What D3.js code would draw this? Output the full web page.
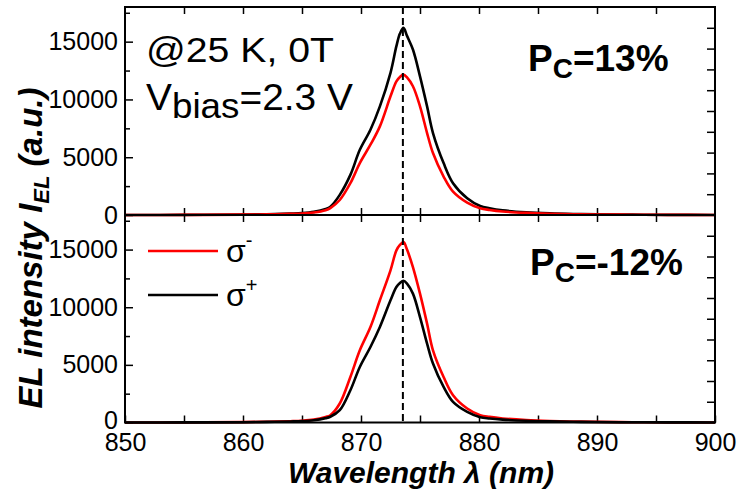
<!DOCTYPE html>
<html><head><meta charset="utf-8">
<script src="https://cdn.jsdelivr.net/npm/d3@7/dist/d3.min.js"></script>
<style>body{margin:0;background:#fff}svg{display:block}</style>
</head><body>
<svg id="c" width="737" height="496"></svg>
<script>
// ---- data ----
const wavelengths   = [850, 855, 860, 862, 864, 865, 866, 867, 867.4, 868.2, 869.1, 869.9, 870.8, 871.6, 872.5, 873.0, 873.3, 873.6, 873.9, 874.4, 875.0, 875.6, 876.1, 877.0, 877.8, 879.0, 880.1, 880.9, 882, 884, 886, 888, 890, 893, 896, 900];
const topSigmaPlus  = [0, 10, 40, 70, 120, 160, 270, 520, 720, 1740, 3470, 5640, 7380, 9400, 12300, 14610, 15700, 16200, 15500, 14320, 12000, 9400, 7090, 4490, 2750, 1450, 780, 580, 400, 230, 140, 90, 60, 30, 15, 5];
const topSigmaMinus = [0, 8, 30, 55, 100, 130, 220, 420, 600, 1300, 2750, 4490, 6080, 7670, 10270, 11570, 11950, 12150, 11900, 11140, 9400, 7090, 5360, 3330, 2020, 1070, 580, 434, 300, 180, 110, 70, 45, 22, 10, 4];
const botSigmaMinus = [0, 10, 35, 65, 110, 150, 250, 480, 633, 1646, 3950, 6265, 8284, 10600, 13200, 14930, 15400, 15650, 15000, 13480, 11180, 8580, 6265, 3950, 2366, 1213, 633, 485, 350, 210, 130, 85, 55, 28, 14, 5];
const botSigmaPlus  = [0, 8, 28, 50, 90, 120, 200, 380, 500, 1066, 2800, 4820, 6550, 8284, 10600, 11750, 12100, 12300, 12050, 11180, 9150, 6845, 5113, 3085, 1785, 918, 460, 347, 250, 150, 95, 60, 40, 20, 10, 4];
const xTickValues   = [850, 860, 870, 880, 890, 900];
const xMinorValues  = [855, 865, 875, 885, 895];
const yTickValues   = [0, 5000, 10000, 15000];
const yMinorValues  = [2500, 7500, 12500, 17500];
const peakWavelength = 873.55;
const panelPc       = ["13%", "-12%"];
const legendLabels  = ["-", "+"];

// ---- layout ----
const svg = d3.select("#c");
const L = 125, R = 715;
const panels = [{y0: 7, y1: 215}, {y0: 215, y1: 422.5}];
const FONT = "'Liberation Sans', Arial, Helvetica, sans-serif";
const x = d3.scaleLinear().domain([850, 900]).range([L, R]);
const yScales = panels.map(p => d3.scaleLinear().domain([0, 18000]).range([p.y1, p.y0]));

const series = [
  [{v: topSigmaPlus, c: "#000"}, {v: topSigmaMinus, c: "#ff0000"}],
  [{v: botSigmaMinus, c: "#ff0000"}, {v: botSigmaPlus, c: "#000"}]
];

function styleAxis(g) {
  g.select(".domain").remove();
  g.selectAll(".tick line").attr("stroke", "#000").attr("stroke-width", 1.5);
  g.selectAll("text").attr("font-family", FONT).attr("font-size", 25).attr("fill", "#000");
}

panels.forEach((p, i) => {
  const y = yScales[i];
  const left = svg.append("g").attr("transform", `translate(${L},0)`)
    .call(d3.axisLeft(y).tickValues(yTickValues).tickSize(-8).tickSizeOuter(0).tickPadding(7).tickFormat(d3.format("d")))
    .call(styleAxis);
  if (i === 1) {
    // lift the bottom "0" slightly so it clears the 850 label
    left.selectAll(".tick text").filter(d => d === 0).attr("dy", "0.22em");
  }
  svg.append("g").attr("transform", `translate(${L},0)`)
    .call(d3.axisLeft(y).tickValues(yMinorValues).tickSize(-5).tickSizeOuter(0).tickFormat(""))
    .call(styleAxis);
  svg.append("g").attr("transform", `translate(${R},0)`)
    .call(d3.axisRight(y).tickValues(d3.range(1800, 18000, 1800)).tickSize(-8).tickSizeOuter(0).tickFormat(""))
    .call(styleAxis);
  svg.append("g").attr("transform", `translate(0,${p.y0})`)
    .call(d3.axisTop(x).tickValues(d3.range(855, 900, 5)).tickSize(-7).tickSizeOuter(0).tickFormat(""))
    .call(styleAxis);
  if (i === 0) {
    svg.append("g").attr("transform", `translate(0,${p.y1})`)
      .call(d3.axisBottom(x).tickValues(d3.range(855, 900, 5)).tickSize(-7).tickSizeOuter(0).tickFormat(""))
      .call(styleAxis);
  } else {
    svg.append("g").attr("transform", `translate(0,${p.y1})`)
      .call(d3.axisBottom(x).tickValues(xTickValues).tickSize(-7).tickSizeOuter(0).tickPadding(11).tickFormat(d3.format("d")))
      .call(styleAxis);
    svg.append("g").attr("transform", `translate(0,${p.y1})`)
      .call(d3.axisBottom(x).tickValues(xMinorValues).tickSize(-7).tickSizeOuter(0).tickFormat(""))
      .call(styleAxis);
  }
  const line = d3.line().x((d, k) => x(wavelengths[k])).y(d => y(Math.max(0, d))).curve(d3.curveCatmullRom.alpha(0.5));
  series[i].forEach(s => {
    svg.append("path").datum(s.v).attr("d", line)
      .attr("fill", "none").attr("stroke", s.c).attr("stroke-width", 2.6).attr("stroke-linejoin", "round");
  });
  svg.append("rect").attr("x", L).attr("y", p.y0).attr("width", R - L).attr("height", p.y1 - p.y0)
    .attr("fill", "none").attr("stroke", "#000").attr("stroke-width", 2);
  const t = svg.append("text").attr("x", i === 0 ? 528 : 530).attr("y", i === 0 ? 71 : 275)
    .attr("font-family", FONT).attr("font-weight", "bold").attr("font-size", 37).attr("fill", "#000");
  t.append("tspan").text("P");
  t.append("tspan").attr("font-size", 28).attr("dy", 7).text("C");
  t.append("tspan").attr("dy", -7).text("=" + panelPc[i]);
});

// dashed vertical line at peak
svg.append("line").attr("x1", x(peakWavelength)).attr("x2", x(peakWavelength))
  .attr("y1", panels[0].y0).attr("y2", panels[1].y1)
  .attr("stroke", "#000").attr("stroke-width", 2).attr("stroke-dasharray", "7,4");

// annotation
svg.append("text").attr("x", 146).attr("y", 62).attr("font-family", FONT).attr("font-size", 35)
  .attr("textLength", 188).attr("lengthAdjust", "spacingAndGlyphs").text("@25 K, 0T");
const vb = svg.append("text").attr("x", 146).attr("y", 110).attr("font-family", FONT).attr("font-size", 37)
  .attr("textLength", 207).attr("lengthAdjust", "spacingAndGlyphs");
vb.append("tspan").text("V");
vb.append("tspan").attr("dy", 8).attr("font-size", 35).text("bias");
vb.append("tspan").attr("dy", -8).text("=2.3 V");

// legend
const legendColors = ["#ff0000", "#000"];
const legendY = [251, 295];
const legendBase = [262, 306];
legendLabels.forEach((lab, k) => {
  svg.append("line").attr("x1", 148).attr("x2", 218).attr("y1", legendY[k]).attr("y2", legendY[k])
    .attr("stroke", legendColors[k]).attr("stroke-width", 2.6);
  const lt = svg.append("text").attr("x", 226).attr("y", legendBase[k]).attr("font-family", FONT).attr("font-size", 32);
  lt.append("tspan").text("σ");
  lt.append("tspan").attr("font-size", 20).attr("dy", k === 0 ? -15 : -14).text(lab);
});

// axis titles
svg.append("text").attr("x", 421).attr("y", 483).attr("text-anchor", "middle")
  .attr("font-family", FONT).attr("font-weight", "bold").attr("font-style", "italic").attr("font-size", 30)
  .text("Wavelength λ (nm)");
const yl = svg.append("text").attr("transform", "translate(42,248) rotate(-90)").attr("text-anchor", "middle")
  .attr("font-family", FONT).attr("font-weight", "bold").attr("font-style", "italic").attr("font-size", 33);
yl.append("tspan").text("EL intensity I");
yl.append("tspan").attr("font-size", 22).attr("dy", 7).text("EL");
yl.append("tspan").attr("dy", -7).text(" (a.u.)");
</script>
</body></html>
